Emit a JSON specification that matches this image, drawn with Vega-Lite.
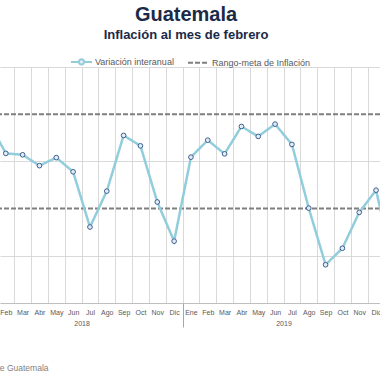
{
  "$schema": "https://vega.github.io/schema/vega-lite/v6.json",
  "autosize": {"type": "none"},
  "width": 380,
  "height": 236,
  "padding": {"top": 67, "left": 0, "right": 0, "bottom": 77},
  "background": "white",
  "title": {
    "text": "Guatemala",
    "subtitle": "Inflación al mes de febrero",
    "anchor": "middle",
    "frame": "group",
    "offset": 8,
    "dx": -4,
    "font": "Liberation Sans",
    "fontSize": 20,
    "fontWeight": "bold",
    "color": "#1b2a47",
    "subtitleFont": "Liberation Sans",
    "subtitleFontSize": 13,
    "subtitleFontWeight": "bold",
    "subtitleColor": "#1b2a47",
    "subtitlePadding": 4
  },
  "config": {
    "view": {"stroke": null},
    "font": "Liberation Sans"
  },
  "datasets": {
    "serie": [
      {"mes": 0, "fecha": "Ene 2018", "valor": 4.83},
      {"mes": 1, "fecha": "Feb 2018", "valor": 4.17},
      {"mes": 2, "fecha": "Mar 2018", "valor": 4.14},
      {"mes": 3, "fecha": "Abr 2018", "valor": 3.91},
      {"mes": 4, "fecha": "May 2018", "valor": 4.08},
      {"mes": 5, "fecha": "Jun 2018", "valor": 3.78},
      {"mes": 6, "fecha": "Jul 2018", "valor": 2.61},
      {"mes": 7, "fecha": "Ago 2018", "valor": 3.37},
      {"mes": 8, "fecha": "Sep 2018", "valor": 4.55},
      {"mes": 9, "fecha": "Oct 2018", "valor": 4.33},
      {"mes": 10, "fecha": "Nov 2018", "valor": 3.14},
      {"mes": 11, "fecha": "Dic 2018", "valor": 2.31},
      {"mes": 12, "fecha": "Ene 2019", "valor": 4.09},
      {"mes": 13, "fecha": "Feb 2019", "valor": 4.45},
      {"mes": 14, "fecha": "Mar 2019", "valor": 4.16},
      {"mes": 15, "fecha": "Abr 2019", "valor": 4.74},
      {"mes": 16, "fecha": "May 2019", "valor": 4.53},
      {"mes": 17, "fecha": "Jun 2019", "valor": 4.79},
      {"mes": 18, "fecha": "Jul 2019", "valor": 4.36},
      {"mes": 19, "fecha": "Ago 2019", "valor": 3.01},
      {"mes": 20, "fecha": "Sep 2019", "valor": 1.81},
      {"mes": 21, "fecha": "Oct 2019", "valor": 2.16},
      {"mes": 22, "fecha": "Nov 2019", "valor": 2.92},
      {"mes": 23, "fecha": "Dic 2019", "valor": 3.39},
      {"mes": 24, "fecha": "Ene 2020", "valor": 1.83}
    ],
    "meta": [
      {"serie": "Rango-meta de Inflación", "valor": 3},
      {"serie": "Rango-meta de Inflación", "valor": 5}
    ]
  },
  "layer": [
    {
      "data": {"name": "meta"},
      "mark": {"type": "rule", "strokeWidth": 2, "clip": true},
      "encoding": {
        "y": {
          "field": "valor", "type": "quantitative",
          "scale": {"domain": [1, 6], "nice": false, "zero": false},
          "axis": {"labels": false, "ticks": false, "domain": false, "grid": true, "values": [2, 4, 6], "gridColor": "#d9d9d9", "title": null}
        },
        "color": {
          "field": "serie", "type": "nominal",
          "scale": {"domain": ["Variación interanual", "Rango-meta de Inflación"], "range": ["#92cddc", "#7f7f7f"]},
          "legend": {
            "orient": "none", "legendX": 70, "legendY": -17, "direction": "horizontal",
            "title": null, "labelFontSize": 9, "labelColor": "#595959", "labelFont": "Liberation Sans",
            "symbolType": "stroke", "symbolSize": 440, "symbolStrokeWidth": 2, "columnPadding": 10, "labelOffset": 2,
            "encode": {"symbols": {"update": {
              "shape": {"signal": "datum.value === 'Variación interanual' ? 'M-1,0H-0.25M0.25,0H1M0.25,0A0.25,0.25,0,1,1,-0.25,0A0.25,0.25,0,1,1,0.25,0' : 'stroke'"},
              "fill": {"signal": "datum.value === 'Variación interanual' ? '#e3edf7' : 'transparent'"}
            }}}
          }
        },
        "strokeDash": {
          "field": "serie", "type": "nominal",
          "scale": {"domain": ["Variación interanual", "Rango-meta de Inflación"], "range": [[1, 0], [5, 2]]},
          "legend": {
            "orient": "none", "legendX": 70, "legendY": -17, "direction": "horizontal",
            "title": null, "labelFontSize": 9, "labelColor": "#595959", "labelFont": "Liberation Sans",
            "symbolType": "stroke", "symbolSize": 440, "symbolStrokeWidth": 2, "columnPadding": 10, "labelOffset": 2,
            "encode": {"symbols": {"update": {
              "shape": {"signal": "datum.value === 'Variación interanual' ? 'M-1,0H-0.25M0.25,0H1M0.25,0A0.25,0.25,0,1,1,-0.25,0A0.25,0.25,0,1,1,0.25,0' : 'stroke'"},
              "fill": {"signal": "datum.value === 'Variación interanual' ? '#e3edf7' : 'transparent'"}
            }}}
          }
        }
      }
    },
    {
      "data": {"name": "serie"},
      "transform": [{"calculate": "'Variación interanual'", "as": "serie"}],
      "mark": {"type": "line", "strokeWidth": 2.5, "clip": true},
      "encoding": {
        "x": {
          "field": "mes", "type": "quantitative",
          "scale": {"domain": [0.655, 23.234], "nice": false, "zero": false},
          "axis": {
            "orient": "bottom",
            "title": null,
            "values": [0, 1, 2, 3, 4, 5, 6, 7, 8, 9, 10, 11, 12, 13, 14, 15, 16, 17, 18, 19, 20, 21, 22, 23, 24],
            "labelExpr": "['Ene','Feb','Mar','Abr','May','Jun','Jul','Ago','Sep','Oct','Nov','Dic'][datum.value % 12]",
            "ticks": false,
            "grid": true,
            "gridColor": "#d9d9d9",
            "tickOffset": 8.42,
            "labelOffset": -8.42,
            "labelPadding": 5,
            "labelFontSize": 7,
            "labelColor": "#595959",
            "labelOverlap": false,
            "labelFlush": false,
            "labelBound": false,
            "domain": true,
            "domainColor": "#bfbfbf",
            "zindex": 0
          }
        },
        "y": {
          "field": "valor", "type": "quantitative",
          "scale": {"domain": [1, 6], "nice": false, "zero": false},
          "axis": {"labels": false, "ticks": false, "domain": false, "grid": true, "values": [2, 4, 6], "gridColor": "#d9d9d9", "title": null}
        },
        "color": {"field": "serie", "type": "nominal"},
        "strokeDash": {"field": "serie", "type": "nominal"}
      }
    },
    {
      "data": {"name": "serie"},
      "mark": {"type": "point", "filled": true, "fill": "#e3edf7", "stroke": "#3e5f8f", "strokeWidth": 1, "size": 22, "opacity": 1, "clip": true},
      "encoding": {
        "x": {
          "field": "mes", "type": "quantitative",
          "axis": {
            "orient": "bottom",
            "title": "Fuente: Banco de Guatemala",
            "titleAnchor": "start",
            "titleAlign": "right",
            "titleX": 48,
            "titleY": 64,
            "titleBaseline": "middle",
            "titleFontSize": 8.5,
            "titleFontWeight": "normal",
            "titleColor": "#7f7f7f",
            "values": [5.5, 11.5, 17.5],
            "labelExpr": "datum.value == 5.5 ? '2018' : (datum.value == 17.5 ? '2019' : '')",
            "ticks": true,
            "tickSize": 24,
            "tickColor": {"condition": {"test": "datum.value == 11.5", "value": "#a6a6a6"}, "value": "transparent"},
            "labelPadding": -8,
            "labelFontSize": 7,
            "labelColor": "#595959",
            "labelOverlap": false,
            "labelFlush": false,
            "labelBound": false,
            "domain": false,
            "grid": false
          }
        },
        "y": {
          "field": "valor", "type": "quantitative",
          "axis": {"labels": false, "ticks": false, "domain": false, "grid": true, "values": [2, 4, 6], "gridColor": "#d9d9d9", "title": null}
        }
      }
    }
  ],
  "resolve": {"axis": {"x": "independent"}}
}
